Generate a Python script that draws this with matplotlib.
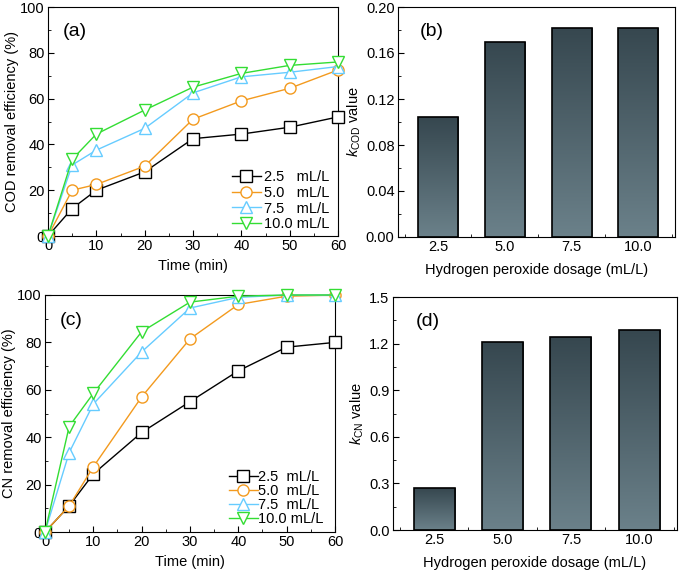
import numpy as np
import matplotlib
matplotlib.use("Agg")
import matplotlib.pyplot as plt
from matplotlib.ticker import MultipleLocator, FixedLocator
from matplotlib.colors import LinearSegmentedColormap

plt.rcParams['font.family'] = ['Liberation Sans', 'DejaVu Sans']
plt.rcParams['mathtext.fontset'] = 'custom'
plt.rcParams['mathtext.rm'] = 'Liberation Sans'
plt.rcParams['mathtext.it'] = 'Liberation Sans:italic'
plt.rcParams['font.size'] = 10.5

# time axis (min)
time = [0, 5, 10, 20, 30, 40, 50, 60]
doses = ["2.5", "5.0", "7.5", "10.0"]

# COD removal efficiency (%)
cod_25 = [0, 12, 20, 28, 42.5, 44.5, 47.5, 52]
cod_50 = [0, 20, 22.5, 30.5, 51, 59, 64.5, 72.5]
cod_75 = [0, 31, 37.5, 47, 62.5, 69.5, 71.5, 74]
cod_100 = [0, 33.5, 44.5, 55, 65, 71, 74.5, 76]

# CN removal efficiency (%)
cn_25 = [0, 11, 24.5, 42, 55, 68, 78, 80]
cn_50 = [0, 11, 27.5, 57, 81.5, 96, 99.5, 100]
cn_75 = [0, 33.5, 54, 76, 94.5, 99, 100, 100]
cn_100 = [0, 44.5, 58.5, 84.5, 97, 99.5, 100, 100]

# rate constants
k_cod = [0.104, 0.170, 0.182, 0.182]
k_cn = [0.27, 1.21, 1.24, 1.285]

colors = ["black", "#f39a1e", "#66ccff", "#33dd33"]
markers = ["s", "o", "^", "v"]

bar_cmap = LinearSegmentedColormap.from_list("bar", ["#6b818a", "#36474f"])

fig = plt.figure(figsize=(6.85, 5.73), dpi=100)
W, H = 685, 573


def add_ax(l, t, r, b):
    return fig.add_axes([l / W, 1 - b / H, (r - l) / W, (b - t) / H])


def style(ax):
    ax.tick_params(which="both", direction="in", top=False, right=False)
    ax.tick_params(which="major", length=4, labelsize=10.5, pad=2.5)
    ax.tick_params(which="minor", length=2.5)


def line_panel(ax, series, ylabel, tag, labels, legend_kw):
    for y, c, m, lab in zip(series, colors, markers, labels):
        ax.plot(time, y, color=c, marker=m, ms=8, mfc="white", mec=c,
                mew=1.0, lw=1.0, label=lab, clip_on=False, zorder=3)
    ax.set_xlim(0, 60)
    ax.set_ylim(0, 100)
    ax.xaxis.set_major_locator(MultipleLocator(10))
    ax.xaxis.set_minor_locator(MultipleLocator(5))
    ax.yaxis.set_major_locator(MultipleLocator(20))
    ax.yaxis.set_minor_locator(MultipleLocator(10))
    ax.set_xlabel("Time (min)", labelpad=4)
    ax.set_ylabel(ylabel, labelpad=1)
    ax.text(0.05, 0.93, tag, transform=ax.transAxes, fontsize=14, va="top")
    ax.legend(frameon=False, loc="lower right", fontsize=10.5,
              borderaxespad=0.0, **legend_kw)
    style(ax)


def bar_panel(ax, vals, ymax, step, ylabel, tag):
    xs = np.arange(len(vals))
    bars = ax.bar(xs, vals, width=0.6, color="none", edgecolor="black",
                  lw=1.2, zorder=3)
    grad = np.linspace(0, 1, 256).reshape(-1, 1)
    for b in bars:
        x0, y0 = b.get_x(), b.get_y()
        im = ax.imshow(grad, cmap=bar_cmap, aspect="auto", origin="lower",
                       extent=[x0, x0 + b.get_width(), y0, y0 + b.get_height()],
                       zorder=2)
        im.set_clip_path(b)
    ax.set_xlim(-0.6, 3.55)
    ax.set_ylim(0, ymax)
    ax.set_xticks(xs)
    ax.set_xticklabels(doses)
    ax.xaxis.set_minor_locator(FixedLocator([-0.5, 0.5, 1.5, 2.5, 3.5]))
    ax.yaxis.set_major_locator(MultipleLocator(step))
    ax.yaxis.set_minor_locator(MultipleLocator(step / 2))
    ax.set_xlabel("Hydrogen peroxide dosage (mL/L)", labelpad=6)
    ax.set_ylabel(ylabel, labelpad=2)
    ax.text(0.08, 0.93, tag, transform=ax.transAxes, fontsize=14, va="top")
    style(ax)


ax_a = add_ax(48, 7, 338, 236)
line_panel(ax_a, [cod_25, cod_50, cod_75, cod_100], "COD removal efficiency (%)",
           "(a)", [d + "   mL/L" if d != "10.0" else d + " mL/L" for d in doses],
           dict(handlelength=2.0, handletextpad=0.2, labelspacing=0.12,
                bbox_to_anchor=(0.99, -0.005)))

ax_b = add_ax(398, 7, 675, 237)
bar_panel(ax_b, k_cod, 0.20, 0.04, r"$\mathit{k}_{\mathrm{COD}}$ value", "(b)")
ax_b.yaxis.set_major_formatter(matplotlib.ticker.FormatStrFormatter("%.2f"))

ax_c = add_ax(45, 295, 335, 532)
line_panel(ax_c, [cn_25, cn_50, cn_75, cn_100], "CN removal efficiency (%)",
           "(c)", [d + "  mL/L" if d != "10.0" else d + " mL/L" for d in doses],
           dict(handlelength=2.0, handletextpad=0.0, labelspacing=0.0,
                bbox_to_anchor=(0.98, 0.0)))

ax_d = add_ax(393, 297, 677, 530)
bar_panel(ax_d, k_cn, 1.5, 0.3, r"$\mathit{k}_{\mathrm{CN}}$ value", "(d)")
ax_d.yaxis.set_major_formatter(matplotlib.ticker.FormatStrFormatter("%.1f"))

fig.savefig("out.png", dpi=100)
